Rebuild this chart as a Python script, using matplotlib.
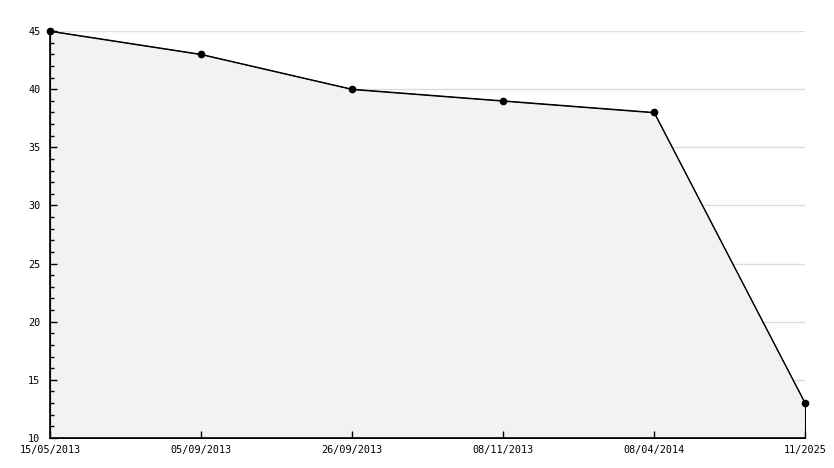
import matplotlib.pyplot as plt
from matplotlib.ticker import MultipleLocator

labels = ['15/05/2013', '05/09/2013', '26/09/2013', '08/11/2013', '08/04/2014', '11/2025']
values = [45, 43, 40, 39, 38, 13]

plt.rcParams['font.family'] = 'DejaVu Sans Mono'

fig = plt.figure(figsize=(8.34, 4.68), dpi=100)
ax = fig.add_axes([50 / 834, 30 / 468, 755 / 834, 407 / 468])

x = range(len(values))
# grid lines drawn under the fill, ticks stay above it
for yv in range(15, 50, 5):
    ax.axhline(yv, color='#dddddd', linewidth=1, zorder=0)
ax.fill_between(x, values, 10, facecolor='#f2f2f2', edgecolor='black', linewidth=0.8, zorder=1)
ax.plot(x, values, color='black', linewidth=0.8, marker='o', markersize=4.5, zorder=5, clip_on=False)

ax.set_xlim(0, len(values) - 1)
ax.set_ylim(10, 45)
ax.set_xticks(list(x))
ax.set_xticklabels(labels)
ax.yaxis.set_major_locator(MultipleLocator(5))
ax.yaxis.set_minor_locator(MultipleLocator(1))

for s in ['top', 'right']:
    ax.spines[s].set_visible(False)
ax.spines['left'].set_linewidth(1.2)
ax.spines['bottom'].set_linewidth(1.2)
ax.spines['left'].set_zorder(4)
ax.spines['bottom'].set_zorder(4)

ax.tick_params(axis='both', direction='in', labelsize=7.3)
ax.tick_params(axis='y', which='major', length=5, width=1, pad=7)
ax.tick_params(axis='y', which='minor', direction='in', length=3, width=1)
ax.tick_params(axis='x', length=5, width=1, pad=5)

fig.savefig('out.png', dpi=100)
